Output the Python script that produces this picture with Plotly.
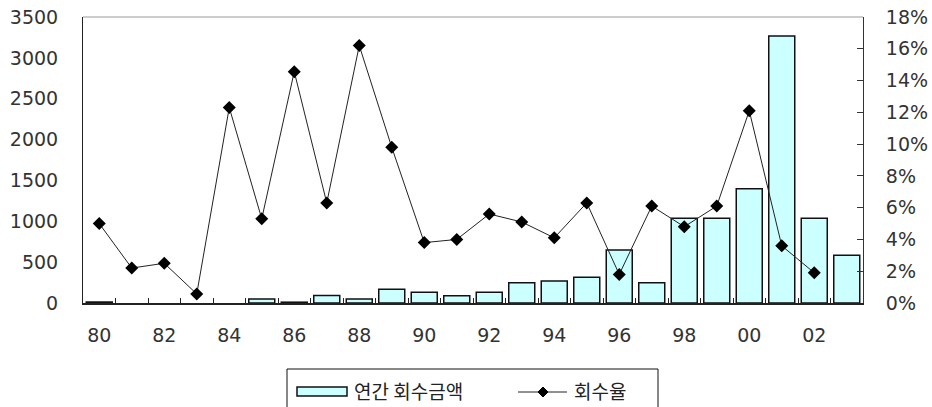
import plotly.graph_objects as go

# Years (two-digit) and values
years = ["80", "81", "82", "83", "84", "85", "86", "87", "88", "89", "90", "91",
         "92", "93", "94", "95", "96", "97", "98", "99", "00", "01", "02", "03"]
amount = [12, None, None, None, None, 50, 10, 92, 49, 168, 131, 90,
          131, 249, 269, 314, 649, 249, 1036, 1036, 1399, 3268, 1036, 584]
rate = [0.050, 0.022, 0.025, 0.0057, 0.123, 0.053, 0.1456, 0.063, 0.162, 0.098, 0.038, 0.040,
        0.056, 0.051, 0.041, 0.063, 0.018, 0.061, 0.048, 0.061, 0.121, 0.036, 0.019, None]
tick_labels = [y if i % 2 == 0 else "" for i, y in enumerate(years)]
series_names = ["연간 회수금액", "회수율"]

BAR_FILL = "#CCFFFF"
INK = "#222"
tick_font = dict(family="DejaVu Sans", size=19, color="#333")

# plot area in pixels
W, H = 932, 407
L, R, T, B = 83, 863, 17, 303


def px(x):
    return (x - L) / (R - L)


def py(y):
    return (B - y) / (B - T)


fig = go.Figure()
fig.add_trace(go.Bar(
    x=years, y=amount, name=series_names[0],
    marker=dict(color=BAR_FILL, line=dict(color="#111", width=1.5)),
))
fig.add_trace(go.Scatter(
    x=years, y=rate, name=series_names[1], yaxis="y2", mode="lines+markers",
    line=dict(color=INK, width=1),
    marker=dict(symbol="diamond", size=10, color="#000"),
    connectgaps=False,
))

# legend box drawn below the plot
legend_shapes = [
    dict(type="rect", xref="paper", yref="paper", x0=px(287), x1=px(658), y0=py(369), y1=py(420),
         line=dict(color="#111", width=1), fillcolor="white", layer="above"),
    dict(type="rect", xref="paper", yref="paper", x0=px(297), x1=px(347), y0=py(387), y1=py(396),
         line=dict(color="#111", width=1.5), fillcolor=BAR_FILL, layer="above"),
    dict(type="line", xref="paper", yref="paper", x0=px(518), x1=px(567), y0=py(392), y1=py(392),
         line=dict(color=INK, width=1), layer="above"),
    dict(type="path", xref="paper", yref="paper",
         path="M {a},{m} L {c},{t} L {d},{m} L {c},{b} Z".format(
             a=px(538), c=px(543), d=px(548), m=py(392), t=py(387), b=py(397)),
         line=dict(color="#000", width=1), fillcolor="#000", layer="above"),
    # light top border of the plot frame
    dict(type="line", xref="paper", yref="paper", x0=0, x1=1, y0=1, y1=1,
         line=dict(color="#BBBBBB", width=1.5)),
]
legend_font = dict(family="Noto Sans CJK KR", size=19, color=INK)
legend_labels = [
    dict(xref="paper", yref="paper", x=px(352), y=py(390), xanchor="left", yanchor="middle",
         text=series_names[0], showarrow=False, font=legend_font),
    dict(xref="paper", yref="paper", x=px(572), y=py(390), xanchor="left", yanchor="middle",
         text=series_names[1], showarrow=False, font=legend_font),
]

fig.update_layout(
    width=W, height=H,
    margin=dict(l=L, r=W - R, t=T, b=H - B, autoexpand=False),
    paper_bgcolor="white", plot_bgcolor="white",
    bargap=0.2,
    showlegend=False,
    xaxis=dict(
        type="category", range=[-0.5, len(years) - 0.5],
        tickmode="array", tickvals=years, ticktext=tick_labels,
        tickson="boundaries", ticks="inside", ticklen=5, tickcolor=INK, tickangle=0,
        showline=True, linecolor=INK, linewidth=1.5, automargin=False,
        showgrid=False, tickfont=tick_font, ticklabelstandoff=14,
    ),
    yaxis=dict(
        range=[0, 3500], dtick=500, showgrid=False, zeroline=False, automargin=False,
        showline=True, linecolor=INK, linewidth=1, ticks="",
        tickfont=tick_font, ticklabelstandoff=20,
    ),
    yaxis2=dict(
        range=[0, 0.18], dtick=0.02, tickformat=".0%", overlaying="y", side="right",
        showgrid=False, zeroline=False, showline=True, linecolor="#333", linewidth=1,
        ticks="inside", ticklen=6, tickcolor="#333", automargin=False,
        tickfont=tick_font, ticklabelstandoff=18,
    ),
    shapes=legend_shapes,
    annotations=legend_labels,
)

fig.write_html("out.html")
